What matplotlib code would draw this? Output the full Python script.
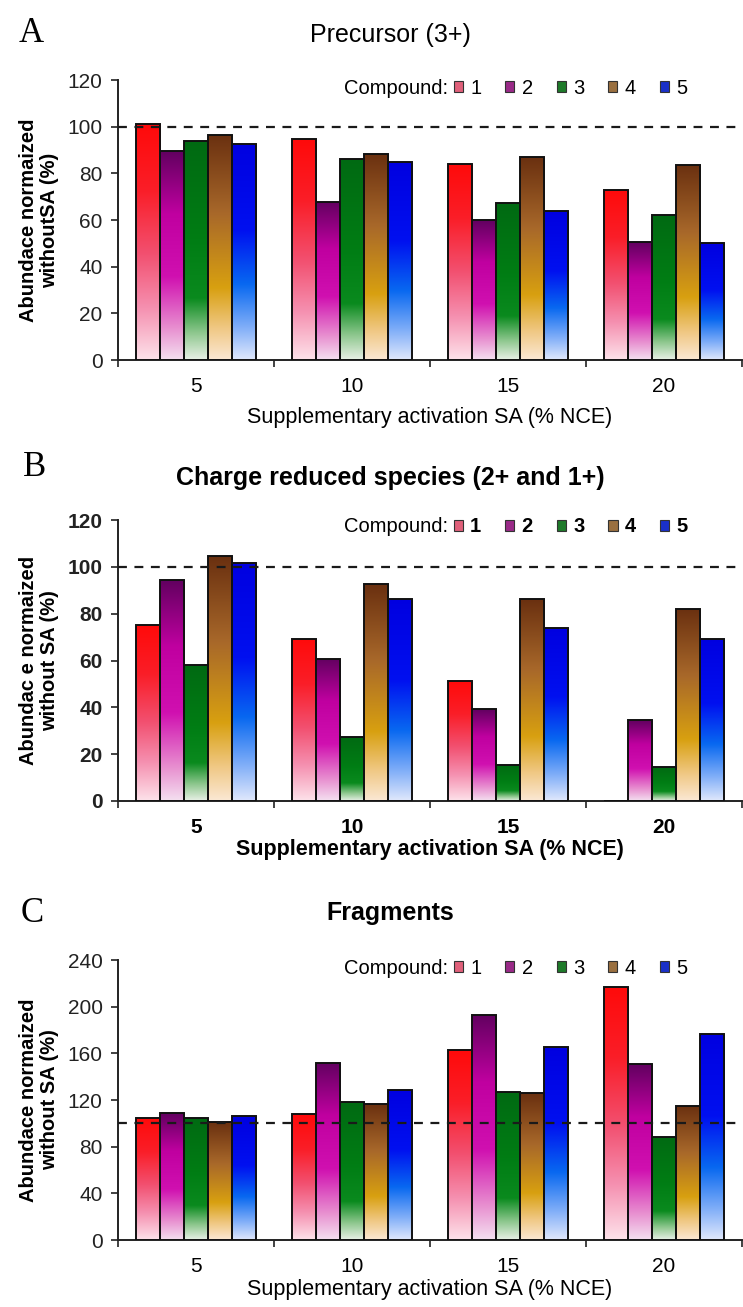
import numpy as np
import matplotlib
matplotlib.use("Agg")
import matplotlib.pyplot as plt
from matplotlib.colors import LinearSegmentedColormap
from matplotlib.patches import Patch

plt.rcParams['font.family'] = ['Liberation Sans', 'DejaVu Sans']

# ---------------- data ----------------
categories = ['5', '10', '15', '20']
compounds = ['1', '2', '3', '4', '5']

precursor_c1 = [101.0, 94.6, 84.2, 73.0]
precursor_c2 = [89.4, 67.8, 59.9, 50.5]
precursor_c3 = [94.0, 86.0, 67.2, 62.0]
precursor_c4 = [96.6, 88.3, 87.0, 83.7]
precursor_c5 = [92.7, 85.0, 63.8, 50.0]

charge_c1 = [75.0, 69.3, 51.3, 0.0]
charge_c2 = [94.2, 60.7, 39.2, 34.5]
charge_c3 = [57.9, 27.3, 15.5, 14.4]
charge_c4 = [104.5, 92.5, 86.1, 82.2]
charge_c5 = [101.8, 86.1, 74.0, 69.3]

frag_c1 = [105.0, 108.0, 163.0, 217.0]
frag_c2 = [108.5, 152.0, 193.0, 150.5]
frag_c3 = [105.0, 118.0, 127.2, 88.5]
frag_c4 = [101.0, 116.6, 125.8, 115.0]
frag_c5 = [106.0, 129.0, 165.6, 177.0]

panel_letters = ['A', 'B', 'C']
panel_titles = ['Precursor (3+)', 'Charge reduced species (2+ and 1+)', 'Fragments']
ylabels = ['Abundace normaized\nwithoutSA (%)',
           'Abundac e normaized\nwithout SA (%)',
           'Abundace normaized\nwithout SA (%)']
xlabel = 'Supplementary activation SA (% NCE)'
legend_title = 'Compound:'
yticks_A = [0, 20, 40, 60, 80, 100, 120]
yticks_B = [0, 20, 40, 60, 80, 100, 120]
yticks_C = [0, 40, 80, 120, 160, 200, 240]
reference_level = 100

# ---------------- styles ----------------
# gradient stops (top -> bottom) for each compound
grad_stops = [
    [(0.0, '#ff0a0a'), (0.28, '#fa1e28'), (0.55, '#f25070'), (0.78, '#f590b0'), (1.0, '#fde2ea')],
    [(0.0, '#620060'), (0.30, '#c000a0'), (0.60, '#d010b0'), (0.85, '#e890d0'), (1.0, '#f4e0f0')],
    [(0.0, '#006a12'), (0.45, '#007d14'), (0.72, '#0a8a1e'), (0.88, '#90c890'), (1.0, '#e8f0e6')],
    [(0.0, '#6a3010'), (0.35, '#a8682a'), (0.68, '#d8a010'), (0.86, '#f0c884'), (1.0, '#fbe8d4')],
    [(0.0, '#0000e0'), (0.40, '#0010f0'), (0.65, '#0868f0'), (0.85, '#80aef8'), (1.0, '#e0e8fc')],
]
legend_colors = ['#e0607a', '#9a2a88', '#1e7a2a', '#9a7040', '#1a30c8']

W, H = 743, 1307
fig = plt.figure(figsize=(W / 100, H / 100), dpi=100)

def fx(px):
    return px / W

def fy(px):
    return 1 - px / H

ax_left, ax_right = 118, 742
panel_px = [(80, 360), (520, 801), (960, 1240)]
datasets = [
    [precursor_c1, precursor_c2, precursor_c3, precursor_c4, precursor_c5],
    [charge_c1, charge_c2, charge_c3, charge_c4, charge_c5],
    [frag_c1, frag_c2, frag_c3, frag_c4, frag_c5],
]
yticks_all = [yticks_A, yticks_B, yticks_C]
bold_ticks = [False, True, False]
title_y = [35, 478, 913]
letter_pos = [(31, 33), (35, 468), (32, 914)]
xlabel_y = [417, 850, 1290]
legend_y = [88, 527, 968]

n_comp = len(compounds)
bar_w = 0.154
x = np.arange(len(categories))

for i in range(3):
    top, bottom = panel_px[i]
    ax = fig.add_axes([fx(ax_left), fy(bottom), fx(ax_right - ax_left), (bottom - top) / H])
    yt = yticks_all[i]
    ymax = yt[-1]
    hpx = bottom - top

    for j, vals in enumerate(datasets[i]):
        offs = (j - (n_comp - 1) / 2) * bar_w
        bars = ax.bar(x + offs, vals, bar_w, facecolor='none', edgecolor='#111111',
                      linewidth=1.4, zorder=4, label=compounds[j])
        cmap = LinearSegmentedColormap.from_list('g%d' % j, grad_stops[j])
        grad = np.linspace(0, 1, 256).reshape(-1, 1)
        for b in bars:
            h = b.get_height()
            if h <= 0:
                continue
            x0 = b.get_x()
            im = ax.imshow(grad, cmap=cmap, extent=[x0, x0 + b.get_width(), 0, h],
                           origin='upper', aspect='auto', zorder=3, interpolation='bilinear')
            im.set_clip_path(b)

    ax.set_xlim(-0.5, len(categories) - 0.5)
    ax.set_ylim(0, ymax)
    ax.set_aspect('auto')

    ax.axhline(reference_level, color='#1a1a1a', lw=1.6, dashes=(4.0, 3.4), zorder=6)

    for s in ['top', 'right']:
        ax.spines[s].set_visible(False)
    for s in ['left', 'bottom']:
        ax.spines[s].set_linewidth(1.4)
        ax.spines[s].set_color('#222222')

    fw = 'bold' if bold_ticks[i] else 'normal'
    ax.set_yticks(yt)
    ax.set_yticklabels([str(v) for v in yt], fontsize=15, fontweight=fw)
    ax.tick_params(axis='y', direction='out', length=5, width=1.2, pad=6, colors='#222222')

    ax.set_xticks(np.arange(len(categories) + 1) - 0.5)
    ax.set_xticklabels([])
    ax.set_xticks(x, minor=True)
    ax.set_xticklabels(categories, minor=True, fontsize=15, fontweight=fw)
    ax.tick_params(axis='x', which='major', direction='out', length=5, width=1.2, colors='#222222')
    ax.tick_params(axis='x', which='minor', length=0, pad=12)

    ax.set_ylabel(ylabels[i], fontsize=14.5, fontweight='bold', linespacing=1.1,
                  va='center', ha='center')
    ax.yaxis.set_label_coords((39 - ax_left) / (ax_right - ax_left), 0.5)

    ax.set_xlabel(xlabel, fontsize=15.5, fontweight=fw)
    ax.xaxis.set_label_coords(0.5, -(xlabel_y[i] - bottom) / hpx)
    ax.xaxis.label.set_va('center')

    tfw = 'normal' if i == 0 else 'bold'
    ax.set_title(panel_titles[i], fontsize=18, fontweight=tfw,
                 x=(390 - ax_left) / (ax_right - ax_left), y=(bottom - title_y[i]) / hpx,
                 va='center', ha='center', pad=0)

    fig.text(fx(letter_pos[i][0]), fy(letter_pos[i][1]), panel_letters[i],
             family=['Liberation Serif', 'DejaVu Serif'], fontsize=25,
             ha='center', va='center')

    # legend
    handles = [Patch(facecolor=legend_colors[j], edgecolor='#333333', linewidth=0.8,
                     label=compounds[j]) for j in range(n_comp)]
    ly = (bottom - legend_y[i]) / hpx
    ax.legend(handles=handles, loc='center left',
              bbox_to_anchor=((454 - ax_left) / (ax_right - ax_left), ly),
              ncol=n_comp, frameon=False, handlelength=0.45,
              handleheight=0.45, handletextpad=0.35, columnspacing=1.2,
              borderpad=0, borderaxespad=0, prop={'weight': fw, 'size': 14.5})
    ax.text((448 - ax_left) / (ax_right - ax_left), ly, legend_title, transform=ax.transAxes,
            ha='right', va='center', fontsize=14.5)

fig.savefig('out.png', dpi=100)
